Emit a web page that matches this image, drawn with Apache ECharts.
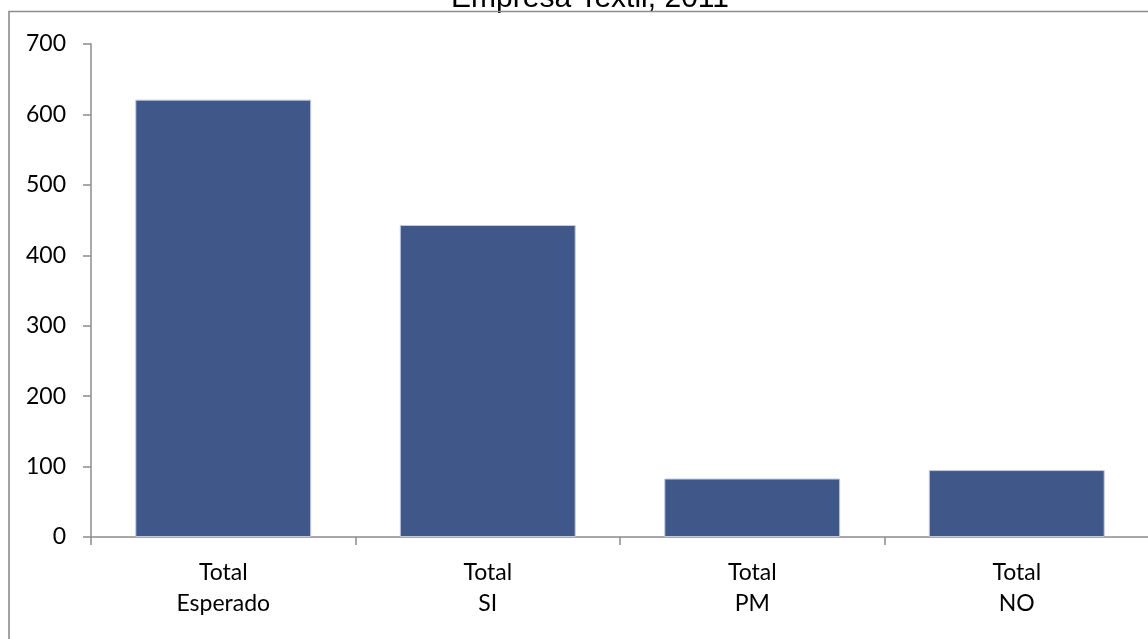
<!DOCTYPE html>
<html>
<head>
<meta charset="utf-8">
<script src="https://cdn.jsdelivr.net/npm/echarts@6/dist/echarts.min.js"></script>
<style>
html,body{margin:0;padding:0;background:#fff;}
#chart{width:1148px;height:639px;}
</style>
</head>
<body>
<div id="chart"></div>
<script>
const titleText = 'Empresa Textil, 2011';
const categories = ['Total\nEsperado', 'Total\nSI', 'Total\nPM', 'Total\nNO'];
const values = [621, 443, 83, 95];
const yTicks = { min: 0, max: 700, interval: 100 };

const chart = echarts.init(document.getElementById('chart'));
const axisGray = '#8c8c8c';
chart.setOption({
  animation: false,
  backgroundColor: '#fff',
  title: {
    text: titleText,
    left: 585,
    top: -21,
    textAlign: 'center',
    textStyle: { fontFamily: 'Liberation Sans', fontSize: 30, fontWeight: 'normal', color: '#000' }
  },
  graphic: [{
    type: 'rect',
    shape: { x: 9, y: 11.5, width: 1300, height: 800 },
    style: { fill: 'none', stroke: axisGray, lineWidth: 1.6 },
    silent: true,
    z: 100
  }],
  grid: { left: 91, right: -1, top: 44, bottom: 102, containLabel: false, outerBoundsMode: 'none' },
  xAxis: {
    type: 'category',
    data: categories,
    axisLine: { show: true, lineStyle: { color: axisGray, width: 1.5 } },
    axisTick: { show: true, length: 8, alignWithLabel: false, interval: 0, lineStyle: { color: axisGray, width: 1.5 } },
    axisLabel: { interval: 0, margin: 20, fontFamily: 'Lato', fontSize: 23, lineHeight: 31, color: '#000' },
    splitLine: { show: false }
  },
  yAxis: {
    type: 'value',
    min: yTicks.min, max: yTicks.max, interval: yTicks.interval,
    axisLine: { show: true, lineStyle: { color: axisGray, width: 1.5 } },
    axisTick: { show: true, length: 8, lineStyle: { color: axisGray, width: 1.5 } },
    axisLabel: { margin: 25, fontFamily: 'Lato', fontSize: 23, color: '#000' },
    splitLine: { show: false }
  },
  series: [{
    type: 'bar',
    data: values,
    barWidth: '66.5%',
    itemStyle: { color: '#40578a', borderColor: '#c3cadb', borderWidth: 1 }
  }]
});
</script>
</body>
</html>
